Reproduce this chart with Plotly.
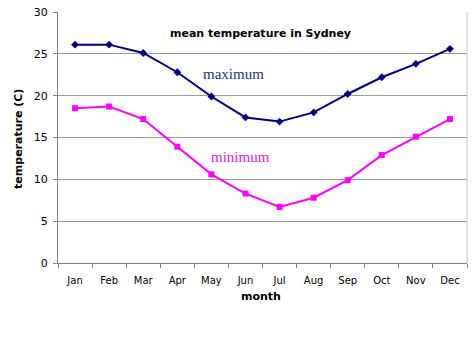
import plotly.graph_objects as go

months = ["Jan", "Feb", "Mar", "Apr", "May", "Jun", "Jul", "Aug", "Sep", "Oct", "Nov", "Dec"]
max_temp = [26.1, 26.1, 25.1, 22.8, 19.9, 17.4, 16.9, 18.0, 20.2, 22.2, 23.8, 25.6]
min_temp = [18.5, 18.7, 17.2, 13.9, 10.6, 8.3, 6.7, 7.8, 9.9, 12.9, 15.1, 17.2]
y_ticks = [0, 5, 10, 15, 20, 25, 30]

SANS = "DejaVu Sans, Arial"
SERIF = "Liberation Serif, Times New Roman"

fig = go.Figure()
fig.add_trace(go.Scatter(x=months, y=max_temp, mode="lines+markers", name="maximum",
                         line=dict(color="#000080", width=2),
                         marker=dict(symbol="diamond", size=6, color="#000080")))
fig.add_trace(go.Scatter(x=months, y=min_temp, mode="lines+markers", name="minimum",
                         line=dict(color="#FF00FF", width=2),
                         marker=dict(symbol="square", size=6, color="#FF00FF")))

fig.update_layout(
    width=474, height=355,
    margin=dict(l=58, r=7, t=12, b=92, autoexpand=False),
    paper_bgcolor="white", plot_bgcolor="white",
    showlegend=False,
    font=dict(family=SANS, size=10, color="black"),
    xaxis=dict(type="category", range=[-0.5, 11.5], tickson="boundaries",
               ticks="outside", ticklen=4, tickcolor="#808080",
               showline=True, linecolor="#808080", linewidth=1,
               showgrid=False, tickfont=dict(size=10, family=SANS),
               ticklabelstandoff=8, automargin=False),
    yaxis=dict(range=[0, 30], tickvals=y_ticks, ticks="outside", ticklen=4,
               tickcolor="#808080", showline=True, linecolor="#808080", linewidth=1,
               showgrid=True, gridcolor="#9a9a9a", gridwidth=1, zeroline=False,
               tickfont=dict(size=11, family=SANS), ticklabelstandoff=3, automargin=False),
    shapes=[dict(type="line", xref="paper", yref="paper", x0=1, x1=1, y0=0, y1=1,
                 line=dict(color="#c0c0c0", width=1))],
    annotations=[
        dict(text="<b>mean temperature in Sydney</b>", x=0.494, y=0.916, xref="paper", yref="paper",
             xanchor="center", yanchor="middle", showarrow=False, font=dict(size=11, family=SANS)),
        dict(text="maximum", x=0.428, y=0.753, xref="paper", yref="paper", showarrow=False,
             xanchor="center", yanchor="middle",
             font=dict(size=15, family=SERIF, color="#1c2e8c")),
        dict(text="minimum", x=0.445, y=0.422, xref="paper", yref="paper", showarrow=False,
             xanchor="center", yanchor="middle",
             font=dict(size=15, family=SERIF, color="#e020d8")),
        dict(text="<b>month</b>", x=0.496, y=-0.135, xref="paper", yref="paper", showarrow=False,
             xanchor="center", yanchor="middle", font=dict(size=11, family=SANS)),
        dict(text="<b>temperature (C)</b>", x=-0.098, y=0.494, xref="paper", yref="paper",
             xanchor="center", yanchor="middle",
             showarrow=False, textangle=-90, font=dict(size=11, family=SANS)),
    ],
)

fig.write_html("out.html", config={"displayModeBar": False},
               post_script="document.body.style.margin='0';document.body.style.overflow='hidden';")
